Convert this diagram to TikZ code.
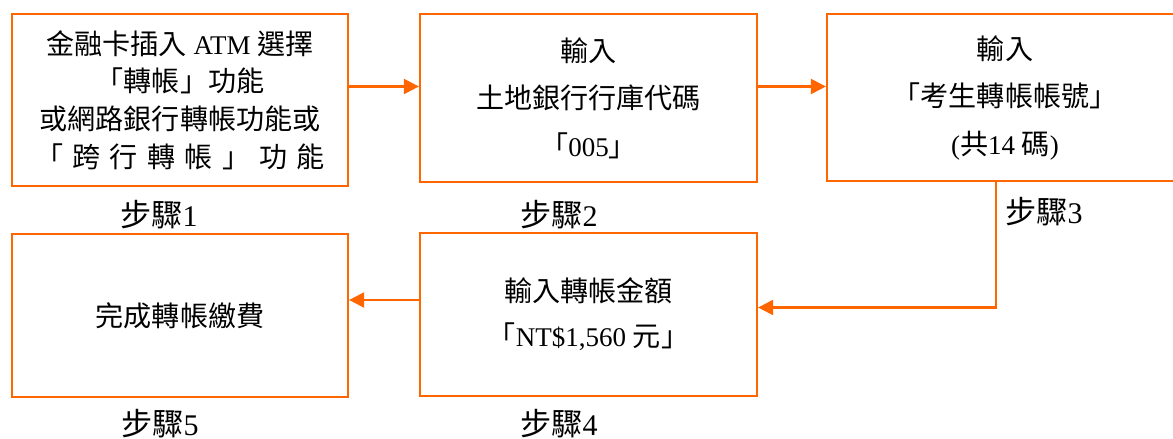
\documentclass[tikz,border=0pt]{standalone}
\usepackage{fontspec}
\setmainfont{Liberation Serif}
\newfontfamily\cjk[Scale=1.04]{Noto Sans CJK TC}
\newcommand{\zh}[1]{{\cjk #1}}
\usetikzlibrary{arrows.meta,calc}
\definecolor{flow}{RGB}{255,102,0}
\tikzset{
  box/.style={draw=flow, line width=2.2pt, rectangle, inner sep=0pt, align=center},
  arr/.style={draw=flow, line width=2.2pt, -{Triangle[length=15pt,width=15pt]}},
  steplbl/.style={inner sep=0pt, font=\fontsize{30}{32}\selectfont}
}
\begin{document}
\begin{tikzpicture}[x=1pt,y=-1pt]
\useasboundingbox (0,0) rectangle (1173,439);
% boxes
\node[box, minimum width=336pt, minimum height=172pt, font=\fontsize{27}{37.7}\selectfont] (b1) at (180,100)
  {\zh{金融卡插入} ATM \zh{選擇}\\ \zh{「轉帳」功能}\\ \zh{或網路銀行轉帳功能或}\\
   \hbox to 290pt{\zh{「}\hfill\zh{跨}\hfill\zh{行}\hfill\zh{轉}\hfill\zh{帳}\hfill\zh{」}\hfill\zh{功}\hfill\zh{能}}};
\node[box, minimum width=337pt, minimum height=168pt, font=\fontsize{27}{47.5}\selectfont] (b2) at (588.5,98)
  {\zh{輸入}\\ \zh{土地銀行行庫代碼}\\ \zh{「}005\zh{」}};
\node[box, minimum width=356pt, minimum height=167pt, font=\fontsize{27}{47.5}\selectfont] (b3) at (1005,97.5)
  {\zh{輸入}\\ \zh{「考生轉帳帳號」}\\ (\zh{共}14 \zh{碼})};
\node[box, minimum width=337pt, minimum height=163pt, font=\fontsize{27}{45}\selectfont] (b4) at (588.5,314.5)
  {\zh{輸入轉帳金額}\\ \zh{「}NT\$1,560 \zh{元」}};
\node[box, minimum width=336pt, minimum height=163pt, font=\fontsize{27}{40}\selectfont] (b5) at (180,315.5)
  {\zh{完成轉帳繳費}};
% step labels
\node[steplbl] (s1) at (159,215) {\zh{步驟}1};
\node[steplbl] (s2) at (559,215) {\zh{步驟}2};
\node[steplbl] (s3) at (1044,212) {\zh{步驟}3};
\node[steplbl] (s4) at (559,424) {\zh{步驟}4};
\node[steplbl] (s5) at (160,424) {\zh{步驟}5};
% connectors
\coordinate (r1) at (0,86.5);
\coordinate (r3) at (996,307.5);
\coordinate (r4) at (0,300);
\draw[arr] (b1.east |- r1) -- (b2.west |- r1);
\draw[arr] (b2.east |- r1) -- (b3.west |- r1);
\draw[arr] (b3.south -| r3) |- (b4.east |- r3);
\draw[arr] (b4.west |- r4) -- (b5.east |- r4);
\end{tikzpicture}
\end{document}
